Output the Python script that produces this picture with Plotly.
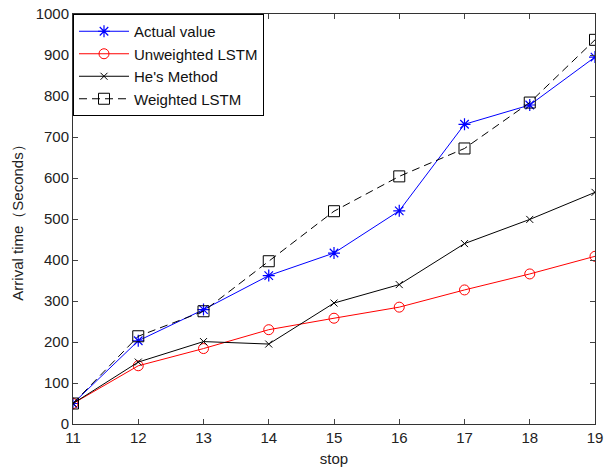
import plotly.graph_objects as go

stops = [11, 12, 13, 14, 15, 16, 17, 18, 19]
actual = [50, 203, 279, 362, 417, 520, 731, 778, 895]
unweighted = [50, 142, 184, 230, 258, 285, 327, 366, 409]
hes = [50, 151, 201, 195, 295, 340, 440, 499, 565]
weighted = [50, 214, 275, 397, 519, 604, 672, 784, 937]

fam = "Liberation Sans, Arial, sans-serif"
font = dict(family=fam, size=15, color="#222")

fig = go.Figure()
fig.add_trace(go.Scatter(x=stops, y=actual, name="Actual value", mode="lines+markers",
                         legendgroup="a",
                         line=dict(color="#0000FF", width=1),
                         marker=dict(symbol="asterisk-open", size=10, color="#0000FF",
                                     line=dict(color="#0000FF", width=1.2))))
fig.add_trace(go.Scatter(x=stops, y=unweighted, name="Unweighted LSTM", mode="lines+markers",
                         legendgroup="b",
                         line=dict(color="#FF0000", width=1),
                         marker=dict(symbol="circle-open", size=10, color="#FF0000",
                                     line=dict(color="#FF0000", width=1))))
fig.add_trace(go.Scatter(x=stops, y=hes, name="He's Method", mode="lines+markers",
                         legendgroup="c",
                         line=dict(color="#000000", width=1),
                         marker=dict(symbol="x-thin-open", size=7, color="#000000",
                                     line=dict(color="#000000", width=1))))
fig.add_trace(go.Scatter(x=stops, y=weighted, name="Weighted LSTM", mode="lines+markers",
                         legendgroup="d",
                         line=dict(color="#000000", width=1, dash="8px,5px"),
                         marker=dict(symbol="square-open", size=11, color="#000000",
                                     line=dict(color="#000000", width=1))))

fig.update_layout(
    width=604, height=469,
    margin=dict(l=73, r=9, t=14, b=45),
    paper_bgcolor="white", plot_bgcolor="white",
    font=font,
    showlegend=True,
    legend=dict(x=0, y=1, xanchor="left", yanchor="top",
                bordercolor="#000000", borderwidth=1, bgcolor="white",
                font=dict(family=fam, size=15, color="#111"),
                tracegroupgap=0, itemwidth=50),
    xaxis=dict(range=[11, 19], tickvals=stops, ticks="inside", ticklen=5,
               showline=True, linecolor="#333", linewidth=1, mirror="ticks",
               showgrid=False, zeroline=False, automargin=False,
               title=dict(text="stop", standoff=8, font=dict(family=fam, size=15))),
    yaxis=dict(range=[0, 1000], dtick=100, ticks="inside", ticklen=5,
               showline=True, linecolor="#333", linewidth=1, mirror="ticks",
               showgrid=False, zeroline=False, automargin=False,
               title=dict(text="Arrival time（Seconds）", standoff=8,
                          font=dict(family=fam, size=15))),
)

fig.write_html("out.html")
